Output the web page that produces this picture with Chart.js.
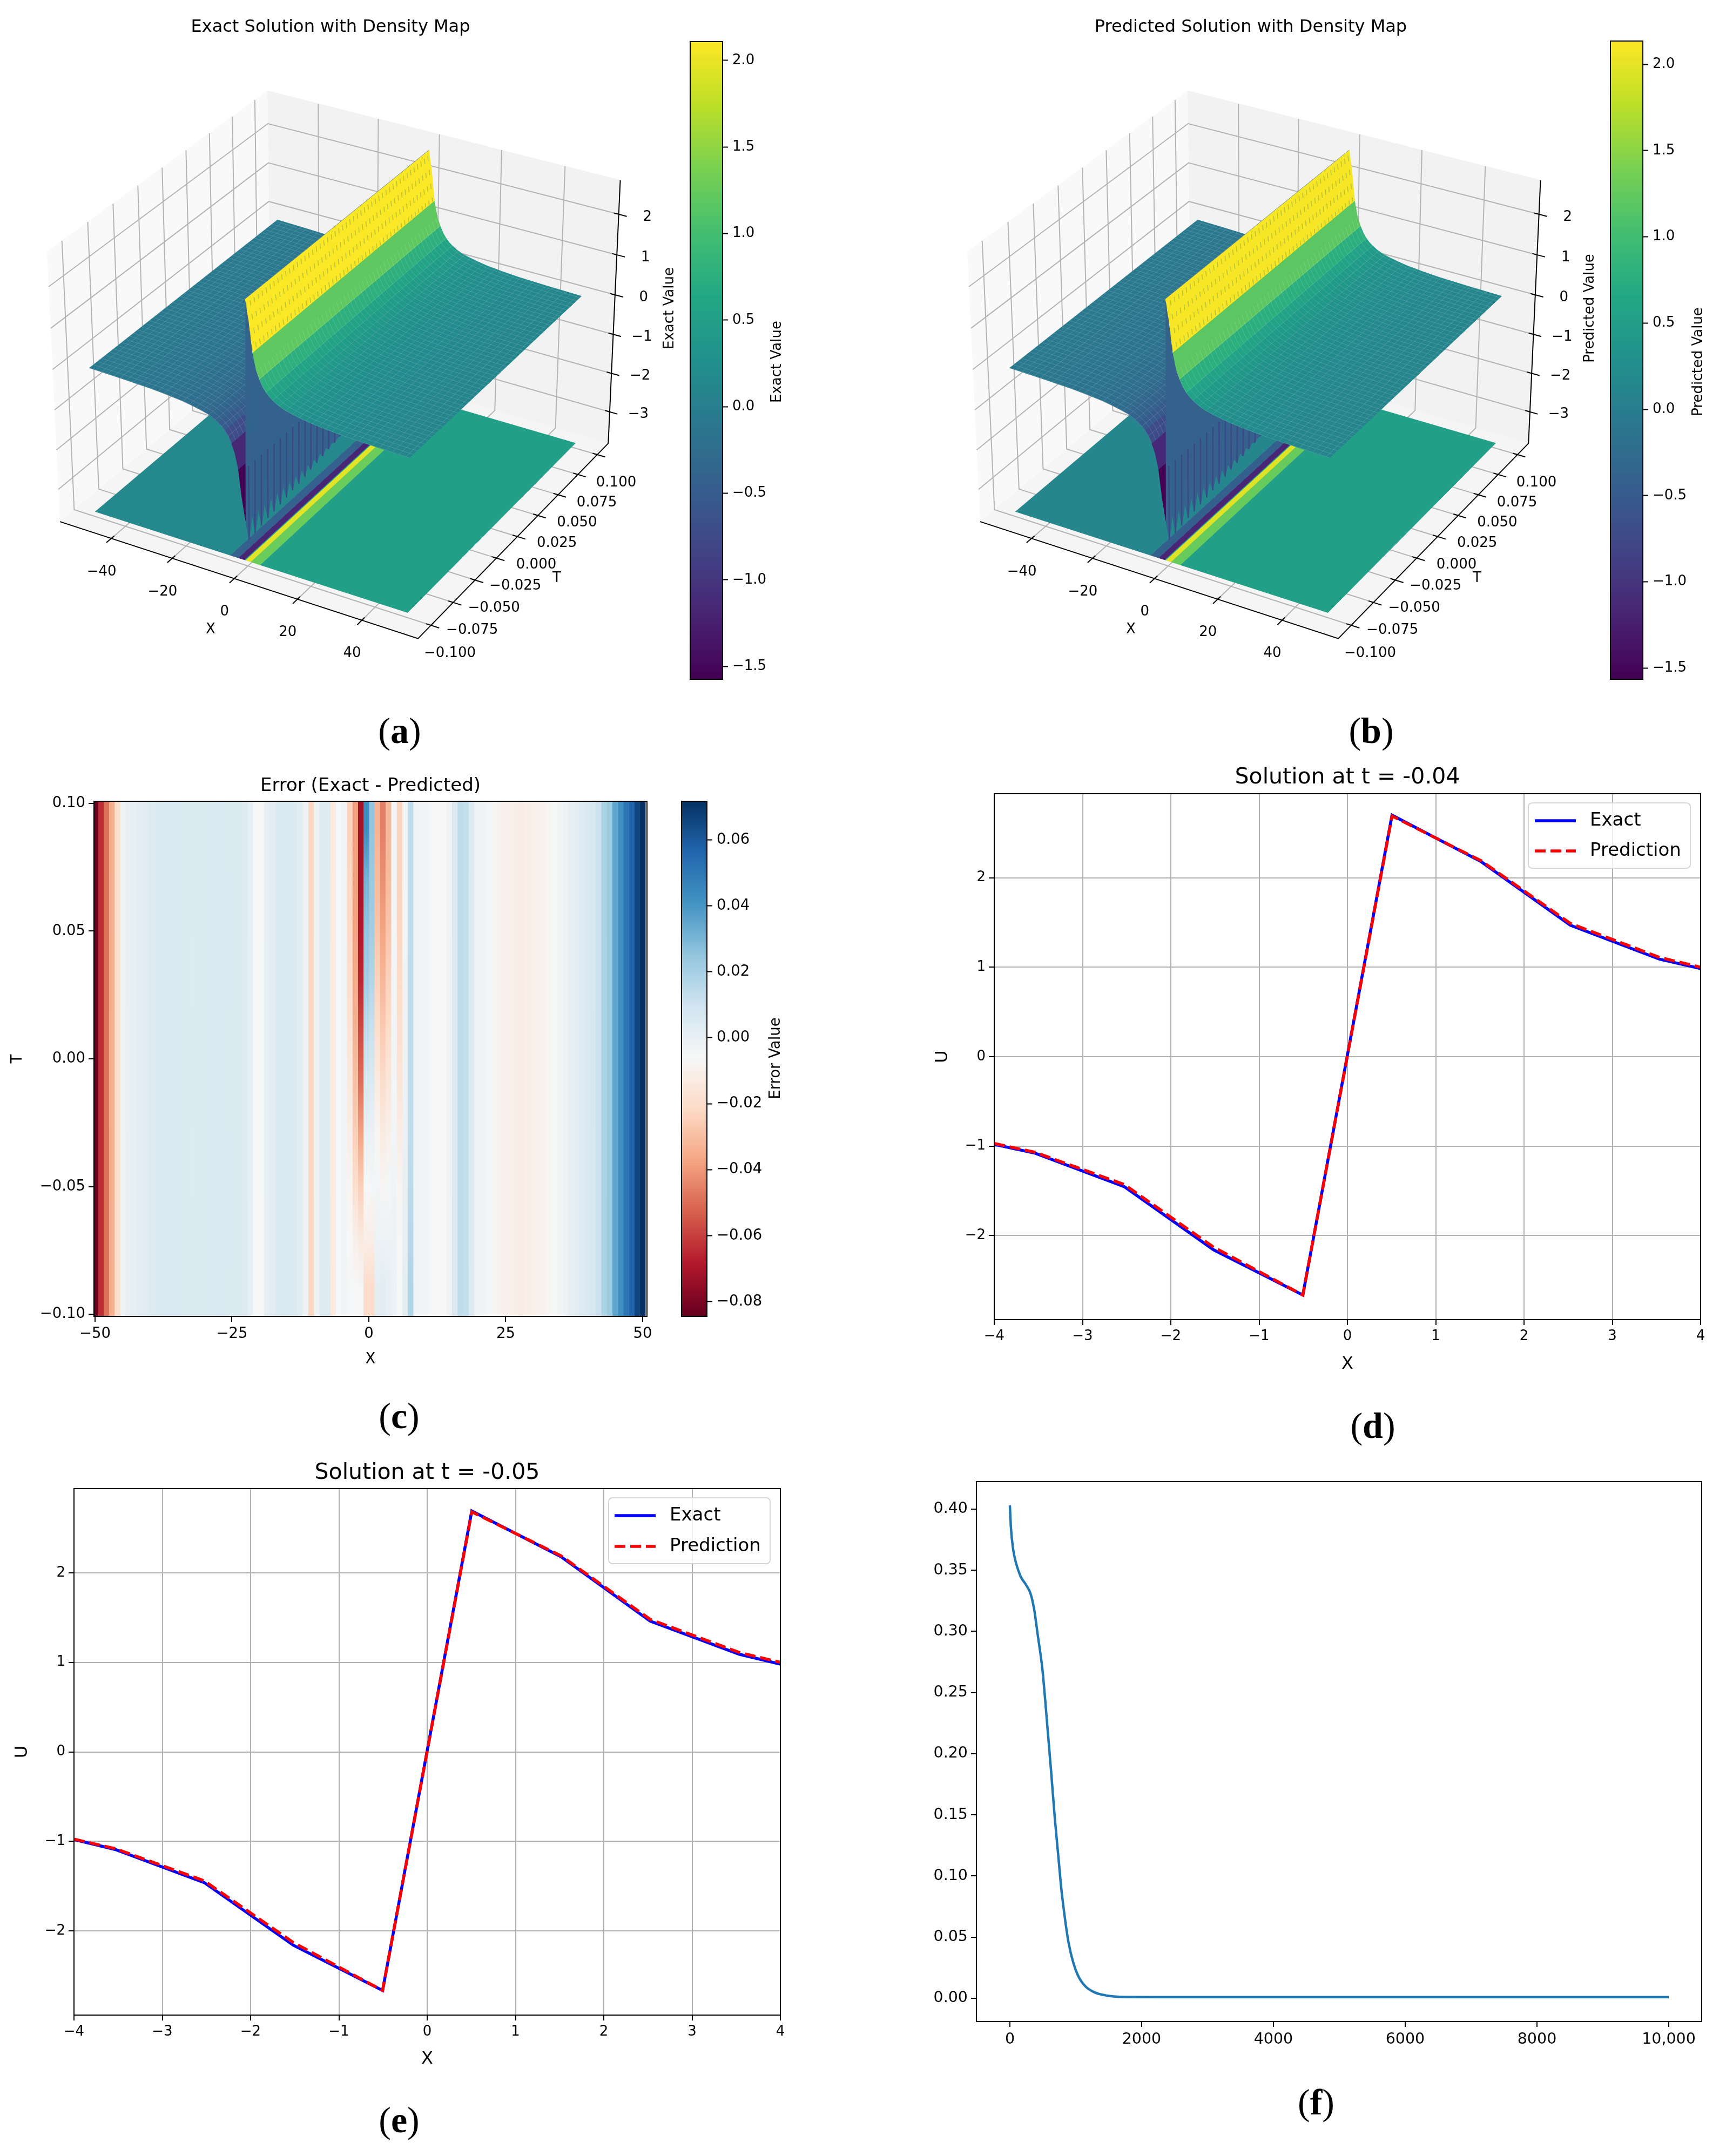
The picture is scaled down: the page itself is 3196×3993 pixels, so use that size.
<!DOCTYPE html>
<html>
<head>
<meta charset="utf-8">
<title>Solution panels</title>
<script src="https://cdn.jsdelivr.net/npm/chart.js@4/dist/chart.umd.js"></script>
<style>
body { margin: 0; background: #fff; }
#page { position: relative; width: 3196px; height: 3993px; overflow: hidden; background: #fff; }
canvas { position: absolute; }
.cap { position: absolute; font-family: "Liberation Serif"; font-size: 68px; line-height: 1; transform: translate(-50%, -50%); color: #000; }
</style>
</head>
<body>
<div id="page"></div>
<script>
// values
const lineX = [-4, -3.535, -2.525, -1.515, -0.505, 0.505, 1.515, 2.525, 3.535, 4];
const exactD = [-0.98, -1.08, -1.455, -2.16, -2.665, 2.70, 2.18, 1.47, 1.09, 0.985];
const predD = [-0.97, -1.07, -1.43, -2.13, -2.665, 2.69, 2.19, 1.49, 1.11, 1.0];
const exactE = [-0.98, -1.09, -1.46, -2.16, -2.665, 2.69, 2.18, 1.46, 1.09, 0.98];
const predE = [-0.975, -1.08, -1.44, -2.13, -2.665, 2.68, 2.19, 1.48, 1.11, 1.0];
const lineXTicks = [-4, -3, -2, -1, 0, 1, 2, 3, 4];
const lineYTicks = [-2, -1, 0, 1, 2];

const lossEpoch = [0, 16, 49, 96, 164, 246, 313, 369, 424, 492, 533, 574, 628, 683, 738, 779, 833, 888, 956, 1038, 1148, 1284, 1475, 1749, 2295, 4000, 7000, 10000];
const lossValue = [0.403, 0.3848, 0.3673, 0.3554, 0.3448, 0.338, 0.331, 0.3179, 0.2967, 0.2698, 0.2457, 0.219, 0.1841, 0.1466, 0.1146, 0.0905, 0.0664, 0.0463, 0.0304, 0.0182, 0.0097, 0.0049, 0.0022, 0.0011, 0.001, 0.001, 0.001, 0.001];
const lossXTicks = [0, 2000, 4000, 6000, 8000, 10000];
const lossXLabels = ['0', '2000', '4000', '6000', '8000', '10,000'];
const lossYTicks = [0, 0.05, 0.1, 0.15, 0.2, 0.25, 0.3, 0.35, 0.4];

const surfaceX = [-50, -40, -30, -25, -20, -17, -14, -12, -10, -8.586, -7.576, -6.566, -5.556, -4.545, -3.535, -2.525, -1.515, -0.505,
  0.505, 1.515, 2.525, 3.535, 4.545, 5.556, 6.566, 7.576, 8.586, 10, 12, 14, 17, 20, 25, 30, 40, 50];
const surfaceU = [-0.08, -0.10, -0.13, -0.16, -0.20, -0.24, -0.29, -0.33, -0.40, -0.47, -0.53, -0.61, -0.72, -0.88, -1.09, -1.47, -2.17, -2.69,
  2.69, 2.17, 1.47, 1.09, 0.88, 0.72, 0.61, 0.53, 0.47, 0.40, 0.33, 0.29, 0.24, 0.20, 0.16, 0.13, 0.10, 0.08];
// facets of the drawn surface span two grid steps and carry one colour each, by |x| going out from the peak
const facetEdges = [0.505, 2.525, 4.545, 6.566, 8.586, 10.6, 12.6, 14.6, 17, 20, 23, 26, 30, 35, 40, 45, 50];
const facetValues = [2.08, 1.175, 0.745, 0.54, 0.43, 0.36, 0.31, 0.27, 0.24, 0.21, 0.18, 0.16, 0.14, 0.12, 0.10, 0.08];
const wallValue = -0.42;
const floorEdges = [-50, -5.6, -3, -1, -0.7, 1, 4, 50];
const floorValues = [0.12, -0.45, -1.2, 0.5, 1.95, 1.25, 0.5];
const floorZ = -3.7;

const x3dTicks = [-40, -20, 0, 20, 40];
const t3dTicks = [-0.1, -0.075, -0.05, -0.025, 0, 0.025, 0.05, 0.075, 0.1];
const z3dTicks = [-3, -2, -1, 0, 1, 2];

const exactBarTicks = [-1.5, -1, -0.5, 0, 0.5, 1, 1.5, 2];
const errBarTicks = [-0.08, -0.06, -0.04, -0.02, 0, 0.02, 0.04, 0.06];
const heatXTicks = [-50, -25, 0, 25, 50];
const heatYTicks = [-0.1, -0.05, 0, 0.05, 0.1];

// error per x column (100 columns), top of the map
const errColumns = [-0.085, -0.065, -0.05, -0.035, -0.02, -0.003, -0.001, 0.000, 0.001, 0.002,
  0.003, 0.004, 0.005, 0.005, 0.005, 0.005, 0.004, 0.004, 0.004, 0.004,
  0.004, 0.004, 0.005, 0.005, 0.004, 0.004, 0.004, 0.003, 0.000, -0.006,
  -0.006, 0.000, 0.002, 0.004, 0.005, 0.005, 0.004, 0.002, -0.003, -0.024,
  -0.003, 0.003, 0.003, -0.014, -0.006, -0.005, -0.025, -0.04, -0.073, 0.042,
  0.025, -0.036, -0.047, -0.033, -0.005, -0.025, -0.005, 0.013, -0.004, -0.005,
  -0.005, -0.006, -0.007, -0.007, -0.004, 0.005, 0.013, 0.012, 0.004, -0.003,
  -0.004, -0.005, -0.008, -0.010, -0.011, -0.012, -0.012, -0.013, -0.012, -0.012,
  -0.011, -0.010, -0.008, -0.007, -0.005, -0.003, 0.000, 0.001, 0.003, 0.005,
  0.007, 0.010, 0.018, 0.022, 0.034, 0.041, 0.05, 0.056, 0.065, 0.071];
// columns near x = 0 change with t, rows run from t = 0.09 down to t = -0.09
const errCenterFirst = 46;
const errCenterT = [0.09, 0.07, 0.05, 0.03, 0.01, -0.01, -0.03, -0.05, -0.07, -0.09];
const errCenter = [
  [-0.025, -0.024, -0.023, -0.021, -0.018, -0.015, -0.012, -0.009, -0.007, -0.006],
  [-0.040, -0.040, -0.039, -0.037, -0.034, -0.030, -0.026, -0.020, -0.012, -0.007],
  [-0.073, -0.072, -0.070, -0.066, -0.058, -0.050, -0.038, -0.026, -0.015, -0.006],
  [0.042, 0.030, 0.024, 0.020, 0.013, 0.006, -0.002, -0.007, -0.012, -0.022],
  [0.024, 0.022, 0.020, 0.016, 0.010, 0.004, -0.002, -0.006, -0.012, -0.022],
  [-0.034, -0.032, -0.029, -0.025, -0.020, -0.014, -0.008, -0.005, -0.003, 0.001],
  [-0.047, -0.043, -0.038, -0.033, -0.027, -0.021, -0.014, -0.008, -0.003, 0.002],
  [-0.033, -0.032, -0.029, -0.025, -0.021, -0.016, -0.011, -0.006, -0.003, 0.000],
  [-0.005, -0.005, -0.005, -0.005, -0.005, -0.005, -0.005, -0.004, -0.003, -0.002],
  [-0.025, -0.025, -0.024, -0.022, -0.020, -0.017, -0.013, -0.009, -0.006, -0.006],
  [-0.005, -0.005, -0.005, -0.004, -0.004, -0.003, -0.002, -0.001, 0.000, 0.001],
  [0.013, 0.013, 0.013, 0.013, 0.013, 0.013, 0.013, 0.014, 0.015, 0.017]
];

const viridisStops = ['#440154', '#482475', '#414487', '#355f8d', '#2a788e', '#21918c', '#22a884', '#44bf70', '#7ad151', '#bddf26', '#fde725'];
const rdbuStops = ['#67001f', '#b2182b', '#d6604d', '#f4a582', '#fddbc7', '#f7f7f7', '#d1e5f0', '#92c5de', '#4393c3', '#2166ac', '#053061'];

const FONT = '"DejaVu Sans"';
const page = document.getElementById('page');
Chart.defaults.animation = false;
Chart.defaults.font.family = FONT;
Chart.defaults.color = '#000';
Chart.defaults.plugins.legend.display = false;
Chart.defaults.plugins.tooltip.enabled = false;

function hexToRgb(h) {
  return [parseInt(h.slice(1, 3), 16), parseInt(h.slice(3, 5), 16), parseInt(h.slice(5, 7), 16)];
}

function lookup(stops, f) {
  const p = Math.min(Math.max(f, 0), 1) * (stops.length - 1);
  const i = Math.min(Math.floor(p), stops.length - 2);
  const a = hexToRgb(stops[i]), b = hexToRgb(stops[i + 1]);
  const c = a.map((v, k) => Math.round(v + (b[k] - v) * (p - i)));
  return `rgb(${c[0]},${c[1]},${c[2]})`;
}

function minusText(s) {
  return String(s).replace('-', '\u2212');
}

function addCanvas(left, top, width, height) {
  const c = document.createElement('canvas');
  c.width = width;
  c.height = height;
  c.style.left = left + 'px';
  c.style.top = top + 'px';
  c.style.width = width + 'px';
  c.style.height = height + 'px';
  page.appendChild(c);
  return c;
}

function textLayer(items, left, top) {
  return {
    id: 'textLayer',
    afterDraw(chart) {
      const ctx = chart.ctx;
      items.forEach(it => {
        let x = it.x - left, y = it.y - top;
        if (it.at) {
          x = chart.scales.x.getPixelForValue(it.at.x) + it.dx;
          y = chart.scales.y.getPixelForValue(it.at.y) + it.dy;
        }
        ctx.save();
        ctx.translate(x, y);
        if (it.rot) ctx.rotate(it.rot);
        ctx.font = `${it.size}px ${FONT}`;
        ctx.textAlign = 'center';
        ctx.textBaseline = 'middle';
        ctx.fillStyle = '#000';
        ctx.fillText(it.text, 0, 0);
        ctx.restore();
      });
    }
  };
}

const framePlugin = {
  id: 'frame',
  afterDraw(chart) {
    const a = chart.chartArea, ctx = chart.ctx;
    ctx.save();
    ctx.strokeStyle = '#000';
    ctx.lineWidth = 2;
    ctx.strokeRect(a.left, a.top, a.right - a.left, a.bottom - a.top);
    ctx.restore();
  }
};

function insetLegend(box, canvasBox, rows, sampleX, textX, size) {
  return {
    id: 'insetLegend',
    afterDraw(chart) {
      const ctx = chart.ctx, ox = canvasBox.l, oy = canvasBox.t;
      ctx.save();
      ctx.fillStyle = 'rgba(255,255,255,0.8)';
      ctx.strokeStyle = '#d5d5d5';
      ctx.lineWidth = 2;
      ctx.beginPath();
      ctx.roundRect(box.l - ox, box.t - oy, box.r - box.l, box.b - box.t, 7);
      ctx.fill();
      ctx.stroke();
      chart.data.datasets.forEach((ds, i) => {
        const y = rows[i] - oy;
        ctx.strokeStyle = ds.borderColor;
        ctx.lineWidth = ds.borderWidth;
        ctx.setLineDash(ds.borderDash || []);
        ctx.beginPath();
        ctx.moveTo(sampleX[0] - ox, y);
        ctx.lineTo(sampleX[1] - ox, y);
        ctx.stroke();
        ctx.setLineDash([]);
        ctx.fillStyle = '#000';
        ctx.font = `${size}px ${FONT}`;
        ctx.textBaseline = 'middle';
        ctx.fillText(ds.label, textX - ox, y);
      });
      ctx.restore();
    }
  };
}

// one 2D panel with its plot box pinned to page coordinates
function cartesian(cfg) {
  const { canvas, plot, datasets } = cfg;
  const el = addCanvas(canvas.l, canvas.t, canvas.r - canvas.l, canvas.b - canvas.t);
  const titleLh = cfg.titleSize ? cfg.titleSize * 1.2 : 0;
  const axis = (ticks, labels, min, max, title, size, showGrid) => ({
    type: 'linear',
    min, max,
    afterBuildTicks: s => { s.ticks = ticks.map(v => ({ value: v })); },
    ticks: { autoSkip: false, maxRotation: 0, minRotation: 0, padding: 6, font: { size: cfg.tickSize }, callback: (v, i) => labels[i] },
    grid: { drawOnChartArea: !!showGrid, color: '#b0b0b0', lineWidth: 2, tickColor: '#000', tickLength: 10, tickWidth: 2 },
    border: { display: false },
    title: title ? { display: true, text: title, font: { size: size }, padding: 0 } : { display: false }
  });
  const x = axis(cfg.xTicks, cfg.xLabels, cfg.xMin, cfg.xMax, cfg.xTitle, cfg.labelSize, cfg.grid);
  x.afterFit = s => { s.height = canvas.b - plot.b; };
  const y = axis(cfg.yTicks, cfg.yLabels, cfg.yMin, cfg.yMax, cfg.yTitle, cfg.labelSize, cfg.grid);
  y.afterFit = s => { s.width = plot.l - canvas.l; };
  return new Chart(el, {
    type: 'line',
    data: { datasets },
    options: {
      responsive: false,
      devicePixelRatio: 1,
      layout: { padding: { left: 0, right: canvas.r - plot.r, bottom: 0, top: cfg.title ? 0 : plot.t - canvas.t } },
      plugins: {
        title: cfg.title ? {
          display: true, text: cfg.title, fullSize: false, color: '#000',
          font: { size: cfg.titleSize, weight: 'normal', lineHeight: 1.2 },
          padding: { top: 0, bottom: plot.t - canvas.t - titleLh }
        } : { display: false }
      },
      scales: { x, y }
    },
    plugins: [framePlugin].concat(cfg.plugins || [])
  });
}

function colorbar(cfg) {
  const { left, top, barW, height, canvasW, min, max, stops, ticks, labels, size } = cfg;
  const pad = 40;
  const el = addCanvas(left, top - pad, canvasW, height + 2 * pad);
  const steps = 200, datasets = [];
  for (let k = 0; k < steps; k++) {
    const lo = min + (max - min) * k / steps, hi = min + (max - min) * (k + 1.4) / steps;
    datasets.push({ data: [[lo, Math.min(hi, max)]], backgroundColor: lookup(stops, (k + 0.5) / steps), grouped: false, barPercentage: 1, categoryPercentage: 1, order: k - steps });
  }
  return new Chart(el, {
    type: 'bar',
    data: { labels: ['c'], datasets },
    options: {
      responsive: false,
      devicePixelRatio: 1,
      layout: { padding: { top: pad, bottom: pad, left: 1 } },
      scales: {
        x: { display: false },
        y: {
          position: 'right', min, max,
          afterBuildTicks: s => { s.ticks = ticks.map(v => ({ value: v })); },
          afterFit: s => { s.width = canvasW - barW; },
          ticks: { autoSkip: false, padding: 8, font: { size }, callback: (v, i) => labels[i] },
          grid: { drawOnChartArea: false, tickColor: '#000', tickLength: 10, tickWidth: 2 },
          border: { display: false }
        }
      }
    },
    plugins: [framePlugin, textLayer([{ text: cfg.label, x: cfg.labelX, y: cfg.labelY, size, rot: -Math.PI / 2 }], left, top - pad)]
  });
}

// matplotlib style 3D view: elev 30, azim -60, box aspect 4:4:3
const xLim = [-57.14, 57.14], tLim = [-0.1143, 0.1143], zLim = [-3.83, 2.83];
const box3d = [1.1905, 1.1905, 0.8929];
const viewDist = 10;
const el3d = 30 * Math.PI / 180, az3d = -60 * Math.PI / 180;
const nV = [Math.cos(el3d) * Math.cos(az3d), Math.cos(el3d) * Math.sin(az3d), Math.sin(el3d)];
const uLen = Math.hypot(nV[0], nV[1]);
const uV = [-nV[1] / uLen, nV[0] / uLen, 0];
const wV = [nV[1] * uV[2] - nV[2] * uV[1], nV[2] * uV[0] - nV[0] * uV[2], nV[0] * uV[1] - nV[1] * uV[0]];

function project(x, t, z) {
  const v = [
    ((x - xLim[0]) / (xLim[1] - xLim[0]) - 0.5) * box3d[0],
    ((t - tLim[0]) / (tLim[1] - tLim[0]) - 0.5) * box3d[1],
    ((z - zLim[0]) / (zLim[1] - zLim[0]) - 0.5) * box3d[2]
  ];
  const dot = a => a[0] * v[0] + a[1] * v[1] + a[2] * v[2];
  const d = viewDist - dot(nV);
  return { x: dot(uV) / d, y: dot(wV) / d };
}

function uAt(x) {
  for (let i = 0; i < surfaceX.length - 1; i++) {
    if (x <= surfaceX[i + 1]) {
      return surfaceU[i] + (surfaceU[i + 1] - surfaceU[i]) * (x - surfaceX[i]) / (surfaceX[i + 1] - surfaceX[i]);
    }
  }
  return surfaceU[surfaceU.length - 1];
}

function poly(points, color) {
  return { data: points, backgroundColor: color, borderColor: color, borderWidth: 1, fill: 'shape', pointRadius: 0, tension: 0 };
}

function stroke(points, color, width, dash) {
  return { data: points, borderColor: color, borderWidth: width, borderDash: dash || [], fill: false, pointRadius: 0, tension: 0 };
}

function build3dDatasets(norm) {
  const ds = [];
  const [x0, x1] = xLim, [t0, t1] = tLim, [z0, z1] = zLim;
  const val = v => lookup(viridisStops, (v - norm[0]) / (norm[1] - norm[0]));

  // panes
  ds.push(poly([project(x0, t0, z0), project(x0, t1, z0), project(x0, t1, z1), project(x0, t0, z1)], '#f9f9f9'));
  ds.push(poly([project(x0, t1, z0), project(x1, t1, z0), project(x1, t1, z1), project(x0, t1, z1)], '#f2f2f2'));
  ds.push(poly([project(x0, t0, z0), project(x1, t0, z0), project(x1, t1, z0), project(x0, t1, z0)], '#f5f5f5'));

  // grid on the panes
  const grey = '#b4b4b4';
  x3dTicks.forEach(x => ds.push(stroke([project(x, t0, z0), project(x, t1, z0), project(x, t1, z1)], grey, 2)));
  t3dTicks.forEach(t => ds.push(stroke([project(x1, t, z0), project(x0, t, z0), project(x0, t, z1)], grey, 2)));
  z3dTicks.forEach(z => ds.push(stroke([project(x0, t0, z), project(x0, t1, z), project(x1, t1, z)], grey, 2)));

  // axis lines and tick marks
  ds.push(stroke([project(x0, t0, z0), project(x1, t0, z0), project(x1, t1, z0), project(x1, t1, z1)], '#000', 2));
  x3dTicks.forEach(x => ds.push(stroke([project(x, t0 + 0.003, z0), project(x, t0 - 0.005, z0)], '#000', 2)));
  t3dTicks.forEach(t => ds.push(stroke([project(x1 - 1.5, t, z0), project(x1 + 2.5, t, z0)], '#000', 2)));
  z3dTicks.forEach(z => ds.push(stroke([project(x1 - 1.5, t1, z), project(x1 + 2.5, t1, z)], '#000', 2)));

  // contour bands on the floor
  floorValues.forEach((v, i) => {
    const a = floorEdges[i], b = floorEdges[i + 1];
    ds.push(poly([project(a, -0.1, floorZ), project(b, -0.1, floorZ), project(b, 0.1, floorZ), project(a, 0.1, floorZ)], val(v)));
  });

  // one flat coloured facet between two x positions, following the table of heights
  const facet = (a, b, v) => {
    const xs = [a].concat(surfaceX.filter(x => x > a + 0.001 && x < b - 0.001), [b]);
    const front = xs.map(x => project(x, -0.1, uAt(x)));
    const back = xs.slice().reverse().map(x => project(x, 0.1, uAt(x)));
    return poly(front.concat(back), val(v));
  };
  const meshColor = 'rgba(255,255,255,0.15)';
  const tLine = (t, from, to) => stroke(surfaceX.filter(x => x >= from && x <= to).map(x => project(x, t, uAt(x))), meshColor, 1);
  const xLine = x => stroke([project(x, -0.1, uAt(x)), project(x, 0.1, uAt(x))], meshColor, 1);

  // left side of the surface
  for (let i = facetValues.length - 1; i >= 0; i--) ds.push(facet(-facetEdges[i + 1], -facetEdges[i], -facetValues[i]));
  for (let t = -0.1; t < 0.1001; t += 0.00404) ds.push(tLine(t, -50, -4));
  for (let x = -50; x < -4; x += 2.02) ds.push(xLine(x));

  // steep wall between the two peaks, its lower edge is jagged in the picture
  const cells = 30;
  for (let j = 0; j < cells; j++) {
    const ta = -0.1 + 0.2 * j / cells, tb = -0.1 + 0.2 * (j + 1) / cells, tm = (ta + tb) / 2;
    const tip = -2.69 - 0.55 * (1 - j / 16);
    ds.push(poly([project(0.505, ta, 2.69), project(0.505, tb, 2.69), project(-0.505, tb, -2.69),
      project(-0.505, tm, Math.min(tip, -2.69)), project(-0.505, ta, -2.69)], val(wallValue)));
    ds.push(stroke([project(-0.505, tm, Math.min(tip, -2.69)), project(-0.3, tm, -1.4)], 'rgba(66,50,130,0.55)', 2.5));
  }

  // right side of the surface, nearest to the viewer
  facetValues.forEach((v, i) => ds.push(facet(facetEdges[i], facetEdges[i + 1], v)));
  for (let t = -0.1; t < 0.1001; t += 0.00404) {
    ds.push(tLine(t, 3, 50));
    ds.push(stroke([project(0.7, t, uAt(0.7)), project(2.5, t, uAt(2.5))], 'rgba(40,110,100,0.3)', 1.5, [10, 16]));
  }
  for (let x = 4.5; x < 50; x += 2.02) ds.push(xLine(x));

  ds.forEach((d, i) => { d.order = -i; });
  return ds;
}

function panel3d(cfg) {
  const w = 1262, h = 1300, left = cfg.left;
  const el = addCanvas(left, 0, w, h);
  const size = 26;
  const items = [
    { text: cfg.title, x: left + 612, y: 51, size: 32 },
    { text: cfg.zLabel, x: left + 1240, y: 571, size, rot: -Math.PI / 2 },
    { text: 'X', x: left + 390, y: 1166, size },
    { text: 'T', x: left + 1031, y: 1071, size }
  ];
  x3dTicks.forEach(v => items.push({ text: minusText(v), at: project(v, tLim[0], zLim[0]), dx: -18, dy: 62, size }));
  t3dTicks.forEach(v => items.push({ text: minusText(v.toFixed(3)), at: project(xLim[1], v, zLim[0]), dx: 35, dy: 52, size }));
  z3dTicks.forEach(v => items.push({ text: minusText(v), at: project(xLim[1], tLim[1], v), dx: 53, dy: 5, size }));
  const pxPerUnit = 6380, cx = 628, cy = 651;
  return new Chart(el, {
    type: 'line',
    data: { datasets: build3dDatasets(cfg.norm) },
    options: {
      responsive: false,
      devicePixelRatio: 1,
      layout: { padding: 0 },
      scales: {
        x: { type: 'linear', display: false, min: -cx / pxPerUnit, max: (w - cx) / pxPerUnit },
        y: { type: 'linear', display: false, min: (cy - h) / pxPerUnit, max: cy / pxPerUnit }
      }
    },
    plugins: [textLayer(items, left, 0)]
  });
}

// panels a and b
panel3d({ left: 0, title: 'Exact Solution with Density Map', zLabel: 'Exact Value', norm: [-1.586, 2.097] });
panel3d({ left: 1704, title: 'Predicted Solution with Density Map', zLabel: 'Predicted Value', norm: [-1.58, 2.12] });
const barLabels = exactBarTicks.map(v => minusText(v.toFixed(1)));
colorbar({ left: 1277, top: 77, barW: 61, height: 1181, canvasW: 190, min: -1.574, max: 2.109, stops: viridisStops, ticks: exactBarTicks, labels: barLabels, size: 26, label: 'Exact Value', labelX: 1439, labelY: 670 });
colorbar({ left: 2981, top: 76, barW: 61, height: 1182, canvasW: 190, min: -1.565, max: 2.135, stops: viridisStops, ticks: exactBarTicks, labels: barLabels, size: 26, label: 'Predicted Value', labelX: 3145, labelY: 670 });

// panel c: one rectangle per map cell, the centre columns fade along t
const heatColor = v => lookup(rdbuStops, (v + 0.0852) / 0.1562);
const heatDatasets = [];
errColumns.forEach((v, i) => {
  const xA = -50.5 + i * 1.01, xB = xA + 1.01;
  const c = i - errCenterFirst;
  const cell = poly([{ x: xA, y: -0.11 }, { x: xB, y: -0.11 }, { x: xB, y: 0.11 }, { x: xA, y: 0.11 }], heatColor(v));
  if (c >= 0 && c < errCenter.length) {
    const fade = ctx => {
      const chart = ctx.chart;
      if (!chart.chartArea) return heatColor(v);
      const y = chart.scales.y;
      const g = chart.ctx.createLinearGradient(0, y.getPixelForValue(0.09), 0, y.getPixelForValue(-0.09));
      errCenterT.forEach((t, r) => g.addColorStop((0.09 - t) / 0.18, heatColor(errCenter[c][r])));
      return g;
    };
    cell.backgroundColor = fade;
    cell.borderColor = fade;
  }
  heatDatasets.push(cell);
});
cartesian({
  canvas: { l: 16, t: 1436, r: 1240, b: 2534 }, plot: { l: 174, t: 1484, r: 1198, b: 2438 },
  title: 'Error (Exact - Predicted)', titleSize: 34, tickSize: 27.5, labelSize: 27.5,
  xMin: -50.2, xMax: 50.8, yMin: -0.1008, yMax: 0.1008,
  xTicks: heatXTicks, xLabels: heatXTicks.map(minusText), yTicks: heatYTicks, yLabels: heatYTicks.map(v => minusText(v.toFixed(2))),
  xTitle: 'X', yTitle: 'T', datasets: heatDatasets
});
colorbar({ left: 1261, top: 1484, barW: 48, height: 954, canvasW: 200, min: -0.0845, max: 0.0717, stops: rdbuStops, ticks: errBarTicks, labels: errBarTicks.map(v => minusText(v.toFixed(2))), size: 27.5, label: 'Error Value', labelX: 1437, labelY: 1960 });

// panels d and e
function solutionPanel(p) {
  const pts = ys => lineX.map((x, i) => ({ x, y: ys[i] }));
  const canvas = { l: p.yLabelX - 19, t: p.titleY - 24, r: p.plot.r + 22, b: p.xLabelY + 19 };
  cartesian({
    canvas, plot: p.plot, title: p.title, titleSize: 41, tickSize: 26, labelSize: 32, grid: true,
    xMin: -4, xMax: 4, yMin: -2.94, yMax: 2.94,
    xTicks: lineXTicks, xLabels: lineXTicks.map(minusText), yTicks: lineYTicks, yLabels: lineYTicks.map(minusText),
    xTitle: 'X', yTitle: 'U',
    datasets: [
      { label: 'Exact', data: pts(p.exact), borderColor: '#0000ff', borderWidth: 5.5, pointRadius: 0, tension: 0, order: 1 },
      { label: 'Prediction', data: pts(p.pred), borderColor: '#ff0000', borderWidth: 5.5, borderDash: [20, 9], pointRadius: 0, tension: 0, order: 0 }
    ],
    plugins: [insetLegend(p.legend, canvas, p.rows, p.sampleX, p.textX, 34)]
  });
}
solutionPanel({
  title: 'Solution at t = -0.04', titleY: 1440, xLabelY: 2527, yLabelX: 1745,
  plot: { l: 1841, t: 1470, r: 3149, b: 2444 }, exact: exactD, pred: predD,
  legend: { l: 2830, t: 1487, r: 3130, b: 1608 }, rows: [1520, 1576], sampleX: [2842, 2918], textX: 2944
});
solutionPanel({
  title: 'Solution at t = -0.05', titleY: 2728, xLabelY: 3814, yLabelX: 41,
  plot: { l: 137, t: 2757, r: 1445, b: 3732 }, exact: exactE, pred: predE,
  legend: { l: 1127, t: 2774, r: 1426, b: 2896 }, rows: [2807, 2864], sampleX: [1138, 1214], textX: 1240
});

// panel f
cartesian({
  canvas: { l: 1640, t: 2700, r: 3190, b: 3830 }, plot: { l: 1808, t: 2744, r: 3151, b: 3744 },
  tickSize: 28.5, xMin: -508, xMax: 10500, yMin: -0.019, yMax: 0.4225,
  xTicks: lossXTicks, xLabels: lossXLabels, yTicks: lossYTicks, yLabels: lossYTicks.map(v => v.toFixed(2)),
  datasets: [{ data: lossEpoch.map((x, i) => ({ x, y: lossValue[i] })), borderColor: '#1f77b4', borderWidth: 4.5, pointRadius: 0, cubicInterpolationMode: 'monotone' }]
});

// sub-figure captions
const captions = [['a', 740, 1353], ['b', 2539, 1353], ['c', 739, 2622], ['d', 2542, 2640], ['e', 739, 3926], ['f', 2437, 3893]];
captions.forEach(([letter, x, y]) => {
  const d = document.createElement('div');
  d.className = 'cap';
  d.style.left = x + 'px';
  d.style.top = y + 'px';
  d.innerHTML = `(<b>${letter}</b>)`;
  page.appendChild(d);
});
</script>
</body>
</html>
